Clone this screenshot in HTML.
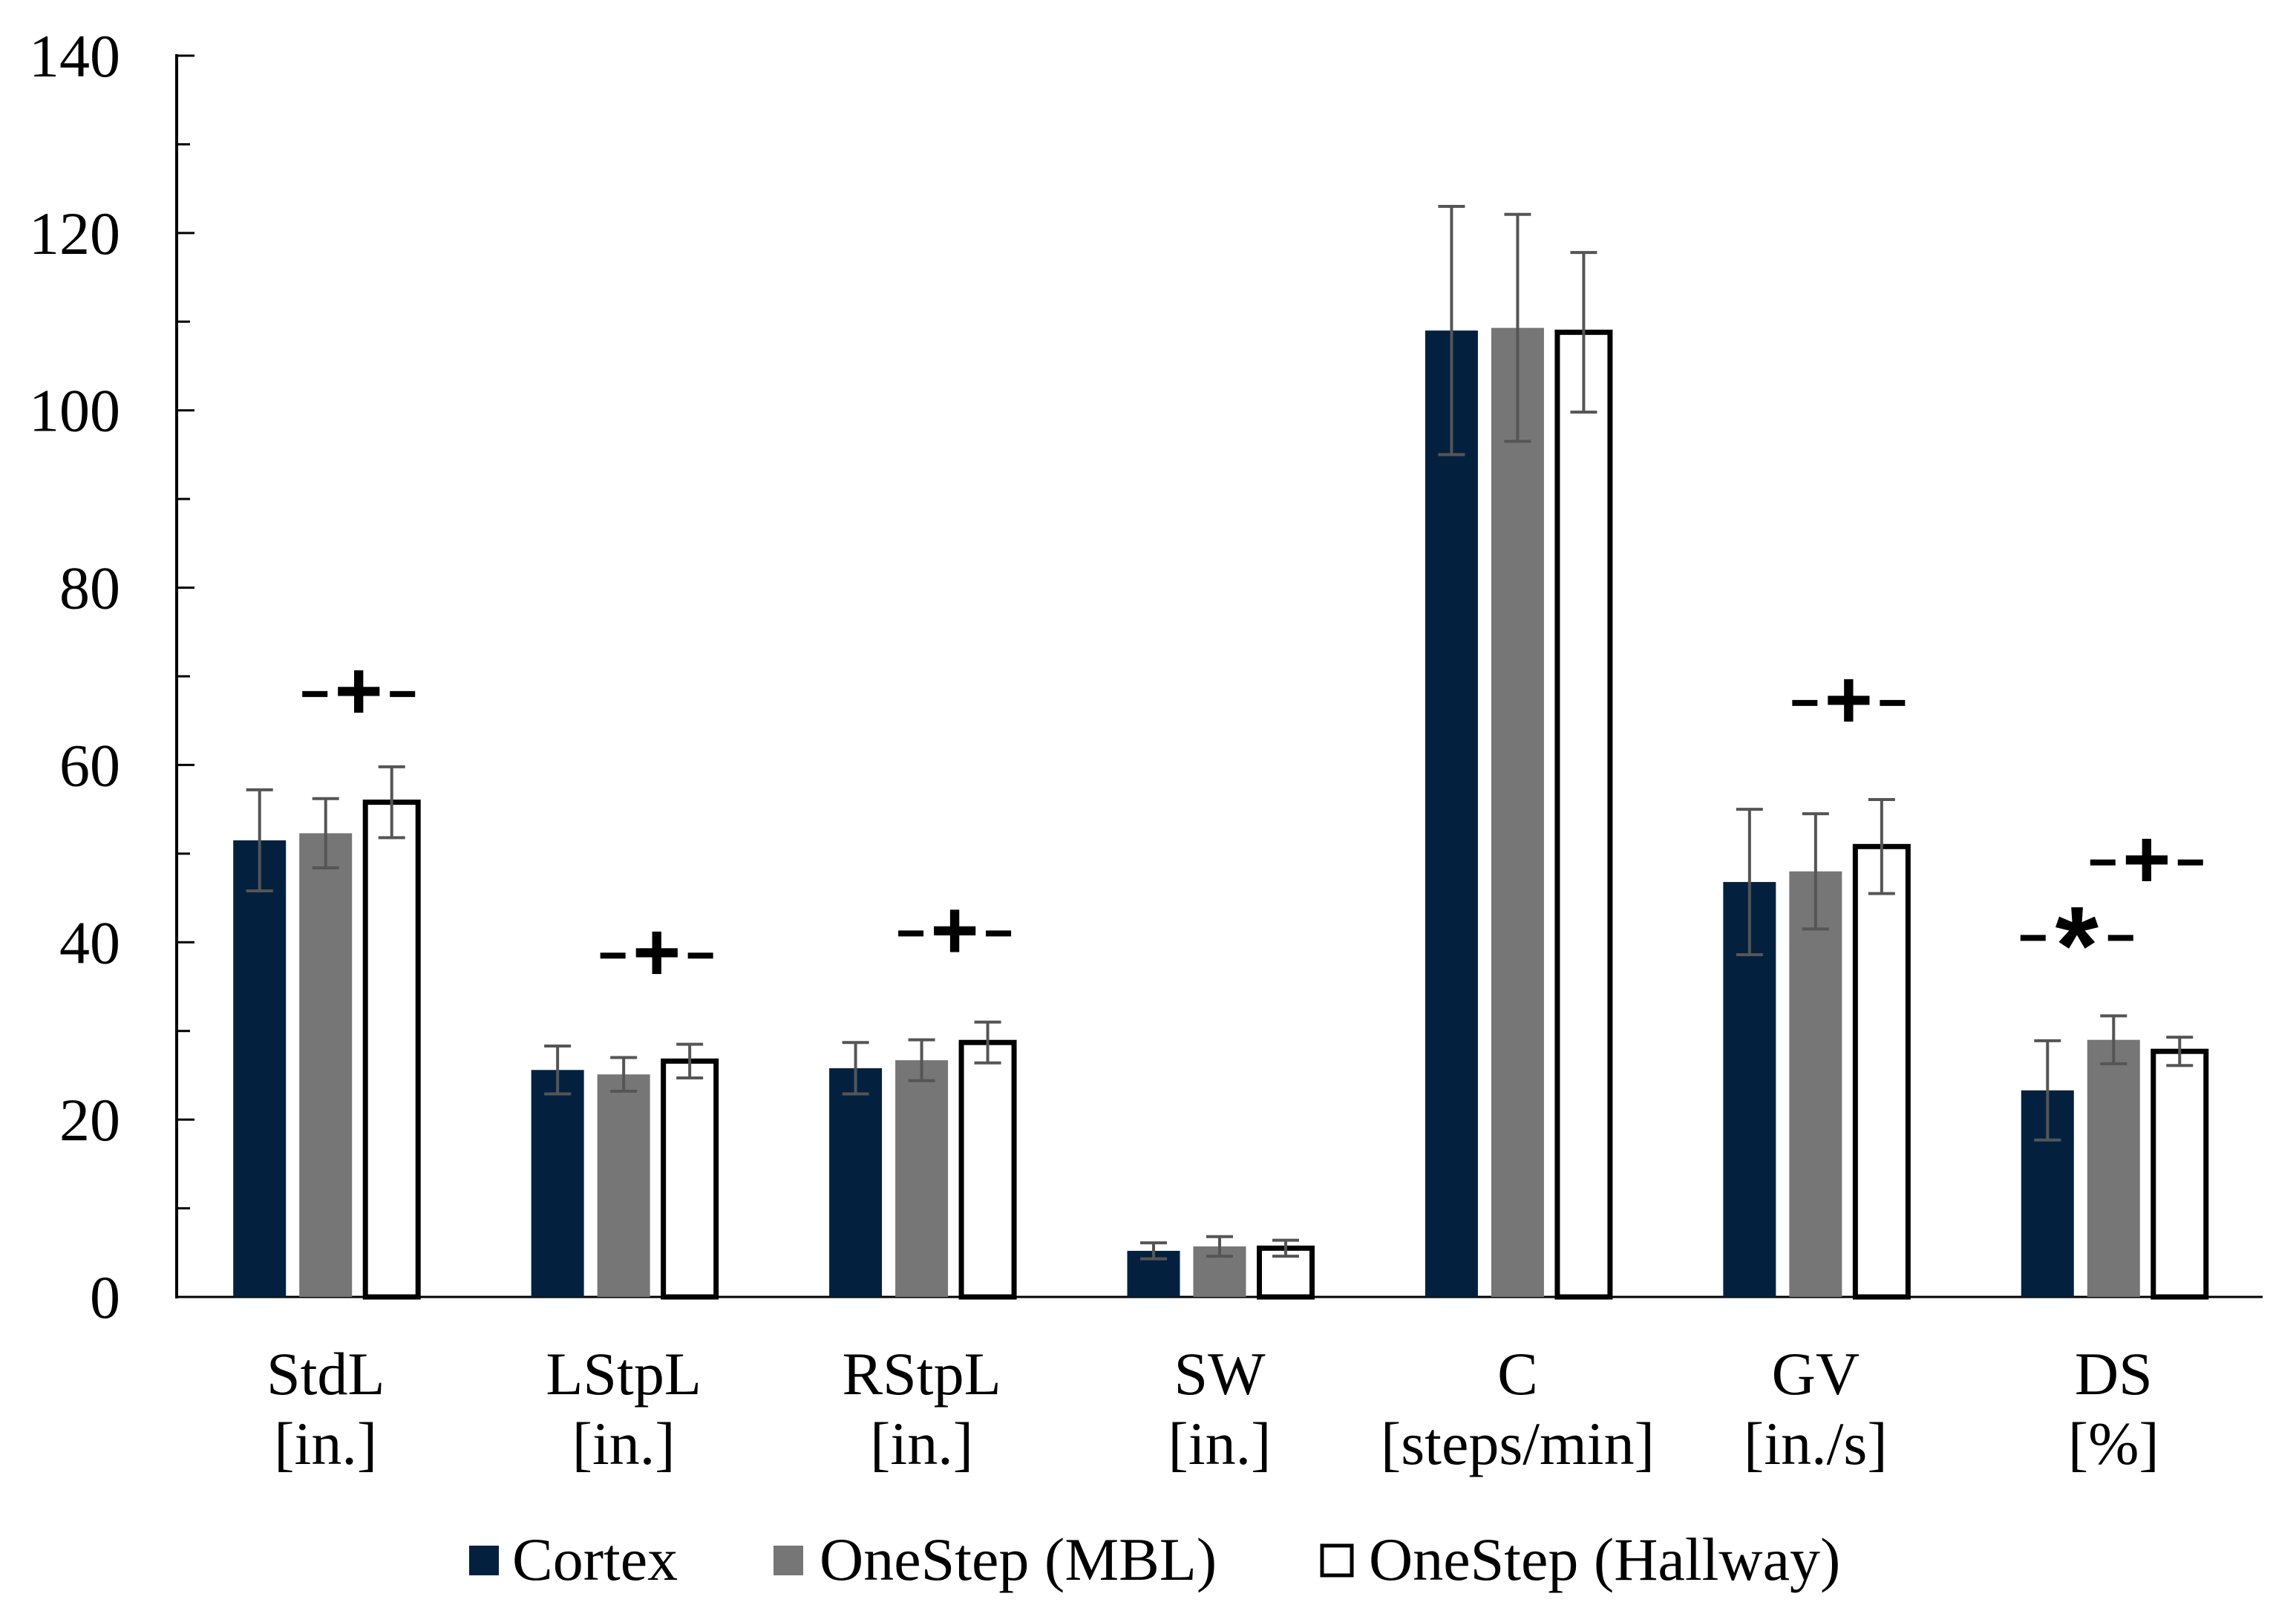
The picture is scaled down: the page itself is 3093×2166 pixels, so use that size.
<!DOCTYPE html>
<html><head><meta charset="utf-8"><style>
html,body{margin:0;padding:0;background:#fff;}
svg{display:block;font-family:"Liberation Serif",serif;}
</style></head><body>
<svg id="chart" width="3093" height="2166" viewBox="0 0 3093 2166" xmlns="http://www.w3.org/2000/svg">
<g id="axes"></g><g id="bars"></g><g id="annots"></g><g id="legend"></g>
</svg>
<script>
const categories = ["StdL","LStpL","RStpL","SW","C","GV","DS"];
const units = ["[in.]","[in.]","[in.]","[in.]","[steps/min]","[in./s]","[%]"];
const seriesNames = ["Cortex","OneStep (MBL)","OneStep (Hallway)"];
const cortexVals = [51.5,25.6,25.8,5.2,109,46.8,23.3];
const cortexErr = [5.7,2.7,2.9,0.9,14,8.2,5.6];
const mblVals = [52.3,25.1,26.7,5.7,109.3,48,29];
const mblErr = [3.9,1.9,2.3,1.1,12.8,6.5,2.7];
const hallVals = [55.8,26.6,28.7,5.5,108.8,50.8,27.7];
const hallErr = [4,1.9,2.3,0.9,9,5.3,1.6];
const yTicks = [0,20,40,60,80,100,120,140];
const annotCats = ["StdL","LStpL","RStpL","GV","DS","DS"];
const annotLevels = [68,38.5,41,67,49,40.5];
const annotSeriesPos = [1.5,1.5,1.5,1.5,1.5,0.5];
const annotSymbols = ["+","+","+","+","+","*"];

const NS="http://www.w3.org/2000/svg";
const X0=238, X1=3048, Y0=1747, Y140=75;
const y = v => Y0 - (v/140)*(Y0-Y140);
const groupW=(X1-X0)/categories.length;
const cx = i => X0 + groupW*(i+0.5);
const offs=[-89,0,89], barW=71;
function mk(tag,attrs,parent){const e=document.createElementNS(NS,tag);for(const k in attrs)e.setAttribute(k,attrs[k]);parent.appendChild(e);return e;}
const axes=document.getElementById('axes'), bars=document.getElementById('bars'), ann=document.getElementById('annots'), leg=document.getElementById('legend');

let el=mk('line',{x1:X0,y1:Y140-2,x2:X0,y2:Y0+2,stroke:'#000','stroke-width':4},axes);


el=mk('line',{x1:X0,y1:Y0,x2:X1,y2:Y0,stroke:'#000','stroke-width':3},axes);


for(let v=0;v<=140;v+=10){
  const t=mk('line',{x1:X0,y1:y(v),x2:X0+(v%20===0?24:18),y2:y(v),stroke:'#000','stroke-width':3},axes);
  
  
}
yTicks.forEach(v=>{
  const t=mk('text',{x:162,y:y(v)+28,'text-anchor':'end','font-size':82,fill:'#000'},axes);
  t.textContent=v;
  
  
});
categories.forEach((c,i)=>{
  const t=mk('text',{x:cx(i),y:1878,'text-anchor':'middle','font-size':82},axes);
  t.textContent=c;
  
  
  const u=mk('text',{x:cx(i),y:1972,'text-anchor':'middle','font-size':82},axes);
  u.textContent=units[i];
  
  
});
const series=[[cortexVals,cortexErr,'#03213f','none'],[mblVals,mblErr,'#767676','none'],[hallVals,hallErr,'#ffffff','#000']];
series.forEach((s,si)=>{
  categories.forEach((c,i)=>{
    const x=cx(i)+offs[si]-barW/2, top=y(s[0][i]);
    const r=mk('rect',{x:x,y:top,width:barW,height:Y0-top,fill:s[2]},bars);
    if(s[3]!=='none'){r.setAttribute('stroke','#000');r.setAttribute('stroke-width',7);}
    
    
    const ex=cx(i)+offs[si], hi=y(s[0][i]+s[1][i]), lo=y(s[0][i]-s[1][i]);
    const g=mk('path',{d:`M${ex},${hi}V${lo}M${ex-18},${hi}H${ex+18}M${ex-18},${lo}H${ex+18}`,stroke:'#555','stroke-width':4,fill:'none'},bars);
    
    
  });
});
annotCats.forEach((c,k)=>{
  const i=categories.indexOf(c);
  const ax=cx(i)+offs[0]+(offs[1]-offs[0])*annotSeriesPos[k]+ (annotSymbols[k]==='*'?-5:0);
  const ay=y(annotLevels[k]);
  const g=mk('g',{},ann);
  
  
  mk('line',{x1:ax-76,y1:ay,x2:ax-42,y2:ay,stroke:'#000','stroke-width':8},g);
  mk('line',{x1:ax+42,y1:ay,x2:ax+76,y2:ay,stroke:'#000','stroke-width':8},g);
  const t=mk('text',{x:ax,y:annotSymbols[k]==='*'?ay+62:ay+34,'text-anchor':'middle','font-size':annotSymbols[k]==='*'?150:112,'font-weight':'bold','font-family':'Liberation Sans, sans-serif'},g);
  t.textContent=annotSymbols[k];
});
const legX=[632,1042,1781], legTX=[690,1104,1844];
seriesNames.forEach((n,si)=>{
  const g=mk('g',{},leg);
  
  
  const r=mk('rect',{x:legX[si],y:2082,width:40,height:40,fill:series[si][2]},g);
  if(si===2){r.setAttribute('stroke','#000');r.setAttribute('stroke-width',5);}
  const t=mk('text',{x:legTX[si],y:2128,'font-size':82},g);
  t.textContent=n;
});
</script>
</body></html>
